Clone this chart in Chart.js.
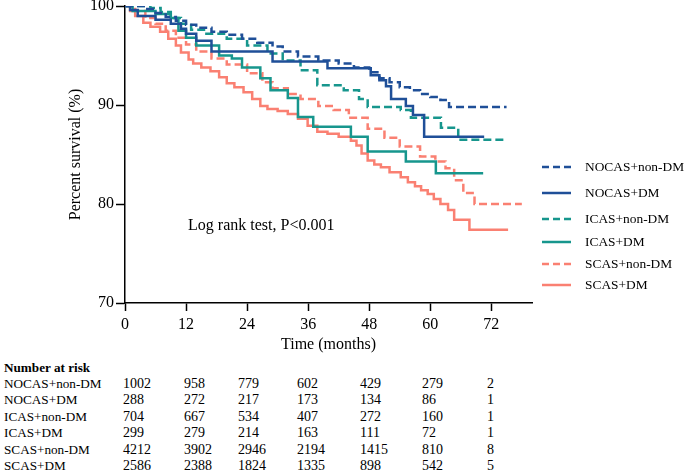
<!DOCTYPE html>
<html>
<head>
<meta charset="utf-8">
<script src="https://cdn.jsdelivr.net/npm/chart.js@4.4.0/dist/chart.umd.min.js"></script>
<style>
  body { margin: 0; background: #fff; }
  #wrap { position: relative; width: 685px; height: 475px; font-family: "Liberation Serif", serif; color: #000; }
  #grafik { position: absolute; left: 0; top: 0; }
  .risk { position: absolute; font-size: 14px; line-height: 16px; white-space: nowrap; }
  .risk.ad { font-size: 13.2px; }
</style>
</head>
<body>
<div id="wrap">
  <canvas id="grafik" width="685" height="360"></canvas>
  <div id="tablo"></div>
</div>
<script>
// group names
const groups = ['NOCAS+non-DM', 'NOCAS+DM', 'ICAS+non-DM', 'ICAS+DM', 'SCAS+non-DM', 'SCAS+DM'];

// survival curves (months, percent)
const nocasNonDmTime = [0, 4, 6, 8, 10, 12, 14, 17, 20, 23, 26, 29, 31, 34, 38, 42, 45, 48, 50, 52, 54, 56, 58, 60, 62, 63.7, 75];
const nocasNonDmSurv = [100, 99.7, 99.3, 98.9, 98.5, 98.1, 97.8, 97.4, 97.1, 96.7, 96.3, 95.9, 95.4, 94.9, 94.5, 94.2, 93.8, 93.3, 92.7, 92.3, 91.8, 91.5, 91.1, 90.8, 90.5, 89.8, 89.8];

const nocasDmTime = [0, 1, 2.5, 6, 9, 11, 12, 14, 17, 29, 39.8, 48.3, 50, 51.3, 52.3, 55.2, 56.6, 58.8, 70.6];
const nocasDmSurv = [100, 99.6, 99.0, 98.6, 98.2, 97.7, 97.2, 96.5, 95.4, 94.4, 93.7, 93.0, 92.5, 91.9, 90.6, 89.9, 89.0, 86.8, 86.8];

const icasNonDmTime = [0, 5, 7, 9, 11, 13, 16, 20, 24, 28, 31, 34.5, 37.8, 43, 46, 47.7, 54.2, 56.2, 62.1, 65.5, 74.4];
const icasNonDmSurv = [100, 99.8, 99.4, 98.8, 98.2, 97.6, 97.2, 96.7, 96.0, 95.2, 94.5, 93.5, 92.0, 91.5, 90.6, 89.8, 89.5, 88.7, 87.7, 86.5, 86.5];

const icasDmTime = [0, 1.5, 6, 9, 10.5, 12, 14, 18.5, 21, 23, 26.6, 28.6, 32, 34, 37, 44.4, 47.7, 55.2, 61.1, 70.4];
const icasDmSurv = [100, 99.5, 99.2, 98.8, 97.5, 96.8, 96.0, 95.0, 94.7, 93.8, 92.7, 91.5, 90.7, 88.8, 87.8, 86.8, 85.3, 84.3, 83.1, 83.1];

const scasNonDmTime = [0, 2, 4, 6, 8, 10, 12, 14, 17, 20, 24, 27, 29, 32, 34.5, 38, 41, 44, 47.7, 51, 54, 58, 61, 63, 64.7, 66.5, 68.7, 78];
const scasNonDmSurv = [100, 99.5, 98.8, 98.2, 97.5, 96.8, 96.1, 95.4, 94.7, 94.1, 93.2, 92.3, 91.7, 91.1, 90.6, 89.9, 89.5, 88.7, 87.6, 86.7, 85.8, 84.8, 84.3, 83.6, 82.4, 81.1, 80.0, 80.0];

const scasDmTime = [0, 1, 2, 3.6, 5, 6.9, 8.5, 10, 11, 12.5, 13.4, 15, 16.8, 18.5, 20, 21.5, 23.3, 25, 26.6, 28, 30, 32, 34, 35.9, 37.8, 39.8, 42, 44.4, 45.5, 46.5, 47.7, 49, 50.3, 52, 54.2, 55.6, 57, 58.2, 59.5, 60.7, 62, 63.5, 64.7, 67.7, 75.3];
const scasDmSurv = [100, 99.5, 99.0, 98.3, 97.9, 97.4, 96.7, 96.0, 95.3, 94.6, 94.2, 93.8, 93.4, 92.8, 92.2, 91.8, 91.3, 90.6, 89.9, 89.6, 89.4, 89.1, 88.6, 87.9, 87.3, 87.1, 86.8, 86.4, 85.9, 85.1, 84.4, 84.0, 83.7, 83.2, 82.7, 82.2, 81.8, 81.4, 81.0, 80.5, 80.0, 79.4, 78.4, 77.4, 77.4];

// number at risk
const riskTimes = [0, 12, 24, 36, 48, 60, 72];
const riskNocasNonDm = [1002, 958, 779, 602, 429, 279, 2];
const riskNocasDm = [288, 272, 217, 173, 134, 86, 1];
const riskIcasNonDm = [704, 667, 534, 407, 272, 160, 1];
const riskIcasDm = [299, 279, 214, 163, 111, 72, 1];
const riskScasNonDm = [4212, 3902, 2946, 2194, 1415, 810, 8];
const riskScasDm = [2586, 2388, 1824, 1335, 898, 542, 5];

const xTicks = [0, 12, 24, 36, 48, 60, 72];
const yTicks = [70, 80, 90, 100];

const navy = '#1f4f98';
const teal = '#17968d';
const salmon = '#fa8072';

function pts(t, s) {
    return t.map((v, i) => ({ x: v, y: s[i] }));
}

function seri(label, t, s, color, dashed) {
    return {
        label: label,
        data: pts(t, s),
        borderColor: color,
        borderWidth: 2.5,
        borderDash: dashed ? [8, 4] : [],
        stepped: true,
        pointRadius: 0,
        fill: false
    };
}

const ekstra = {
    id: 'ekstra',
    afterDraw(chart) {
        const ctx = chart.ctx;
        const x = chart.scales.x, y = chart.scales.y;
        ctx.save();
        ctx.fillStyle = '#000';
        ctx.textBaseline = 'middle';
        ctx.font = '16px "Liberation Serif"';
        ctx.fillText('Log rank test, P<0.001', x.getPixelForValue(12.4), y.getPixelForValue(77.8));

        // legend on the right
        const ys = [167, 193, 219, 242, 264, 285];
        chart.data.datasets.forEach(function(ds, i) {
            ctx.strokeStyle = ds.borderColor;
            ctx.lineWidth = 2.5;
            ctx.setLineDash(ds.borderDash.length ? [7, 4] : []);
            ctx.beginPath();
            ctx.moveTo(542, ys[i]);
            ctx.lineTo(571, ys[i]);
            ctx.stroke();
            ctx.setLineDash([]);
            ctx.font = '13.4px "Liberation Serif"';
            ctx.fillText(ds.label, 585, ys[i]);
        });
        ctx.restore();
    }
};

const grafik = new Chart(document.getElementById('grafik'), {
    type: 'line',
    data: {
        datasets: [
            seri(groups[0], nocasNonDmTime, nocasNonDmSurv, navy, true),
            seri(groups[1], nocasDmTime, nocasDmSurv, navy, false),
            seri(groups[2], icasNonDmTime, icasNonDmSurv, teal, true),
            seri(groups[3], icasDmTime, icasDmSurv, teal, false),
            seri(groups[4], scasNonDmTime, scasNonDmSurv, salmon, true),
            seri(groups[5], scasDmTime, scasDmSurv, salmon, false)
        ]
    },
    options: {
        responsive: false,
        animation: false,
        layout: { padding: { left: 62, right: 153, top: 6, bottom: 2 } },
        plugins: { legend: { display: false }, tooltip: { enabled: false } },
        scales: {
            x: {
                type: 'linear',
                min: 0,
                max: 80,
                afterBuildTicks: function(s) { s.ticks = xTicks.map(v => ({ value: v })); },
                afterFit: function(s) { s.height = 55; },
                border: { color: '#000', width: 1.5 },
                grid: { drawOnChartArea: false, tickLength: 8, tickColor: '#000', tickWidth: 1.5 },
                ticks: { color: '#000', padding: 4, maxRotation: 0, font: { family: 'Liberation Serif', size: 16 } },
                title: { display: true, text: 'Time (months)', color: '#000', font: { family: 'Liberation Serif', size: 16 } }
            },
            y: {
                min: 70,
                max: 100,
                afterBuildTicks: function(s) { s.ticks = yTicks.map(v => ({ value: v })); },
                afterFit: function(s) { s.width = 63; s.paddingTop = 0; s.paddingBottom = 0; },
                border: { color: '#000', width: 1.5 },
                grid: { drawOnChartArea: false, tickLength: 9, tickColor: '#000', tickWidth: 1.5 },
                ticks: { color: '#000', padding: 2, font: { family: 'Liberation Serif', size: 16 } },
                title: { display: true, text: 'Percent survival (%)', color: '#000', font: { family: 'Liberation Serif', size: 16 } }
            }
        }
    },
    plugins: [ekstra]
});

// number at risk table
const riskRows = [riskNocasNonDm, riskNocasDm, riskIcasNonDm, riskIcasDm, riskScasNonDm, riskScasDm];
const colX = [123, 184, 238, 297, 360, 422, 487];
const tablo = document.getElementById('tablo');

function yaz(text, left, top, cls) {
    const d = document.createElement('div');
    d.className = 'risk' + (cls ? ' ' + cls : '');
    d.style.left = left + 'px';
    d.style.top = top + 'px';
    d.textContent = text;
    tablo.appendChild(d);
    return d;
}

yaz('Number at risk', 4, 360, 'ad').style.fontWeight = 'bold';
riskRows.forEach(function(row, r) {
    const top = 376 + r * 16.4;
    yaz(groups[r], 4, top, 'ad');
    row.forEach(function(n, c) {
        yaz(String(n), colX[c], top);
    });
});
</script>
</body>
</html>
